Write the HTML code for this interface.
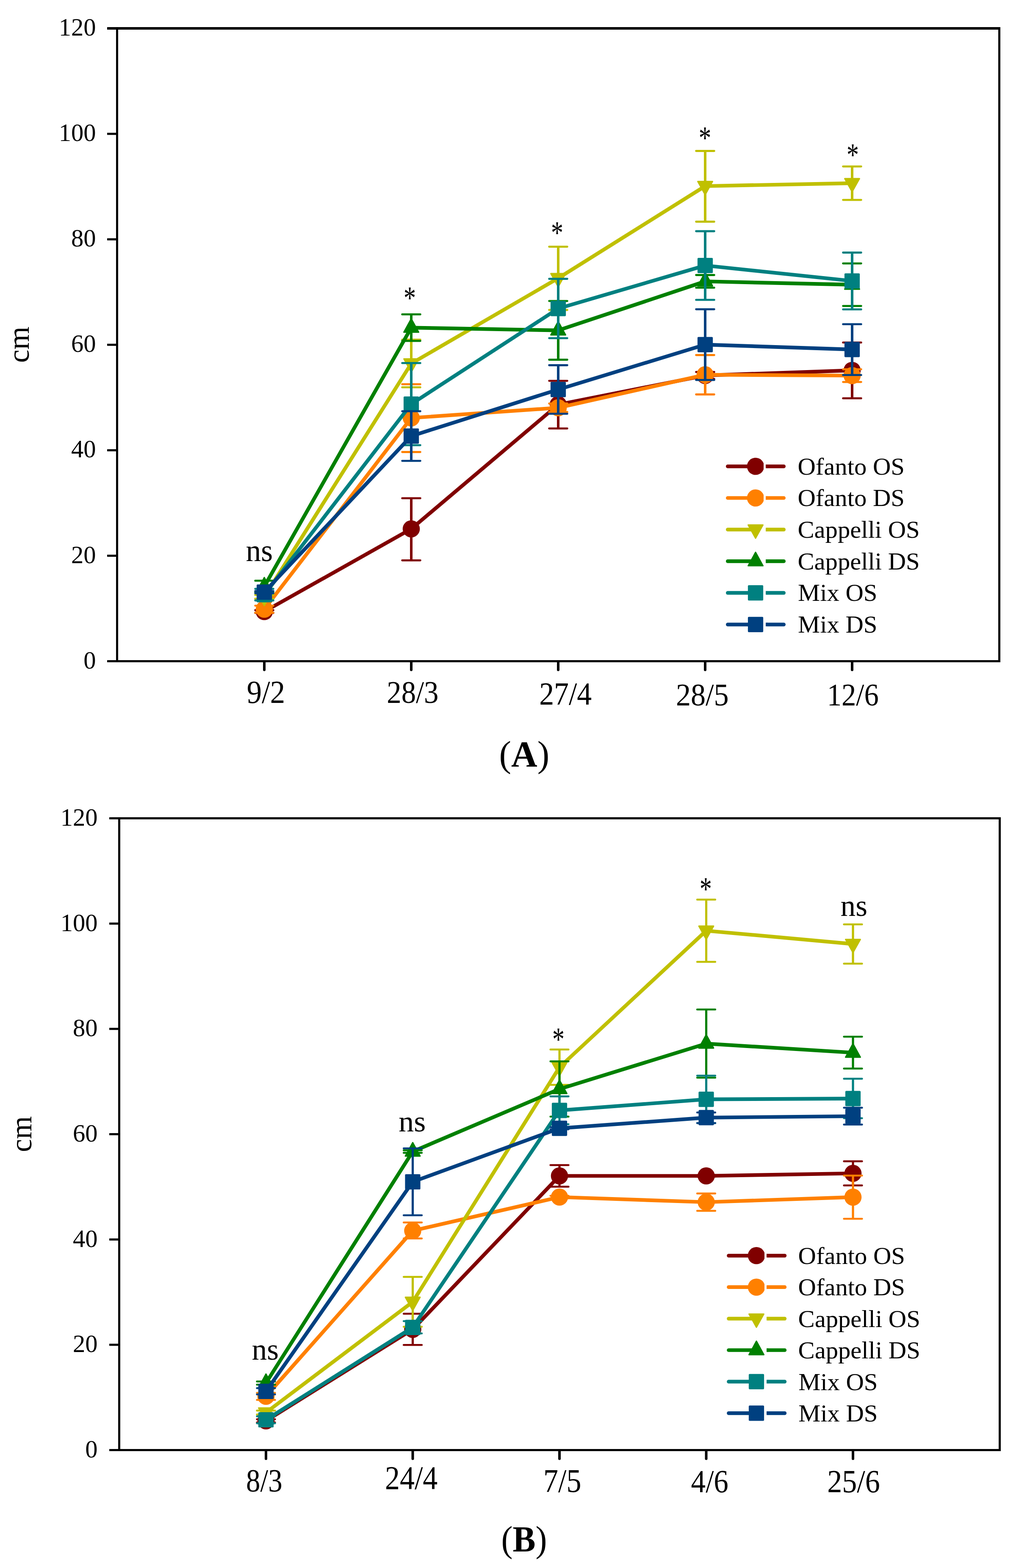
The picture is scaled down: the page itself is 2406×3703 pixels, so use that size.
<!DOCTYPE html>
<html><head><meta charset="utf-8"><title>Plant height</title>
<style>html,body{margin:0;padding:0;background:#fff;width:2406px;height:3703px;overflow:hidden}svg{display:block}</style>
</head><body>
<svg width="2406" height="3703" viewBox="0 0 2406 3703" font-family="Liberation Serif, serif">
<rect width="2406" height="3703" fill="#fff"/>
<rect x="253" y="64" width="2109" height="6"/>
<rect x="253" y="1559" width="2109" height="5"/>
<rect x="274" y="64" width="5" height="1500"/>
<rect x="2357" y="64" width="5" height="1500"/>
<rect x="253" y="1309.92" width="21" height="5"/>
<rect x="253" y="1060.83" width="21" height="5"/>
<rect x="253" y="811.75" width="21" height="5"/>
<rect x="253" y="562.67" width="21" height="5"/>
<rect x="253" y="313.58" width="21" height="5"/>
<path d="M624.05 1563 V1582" stroke="#000" stroke-width="6" stroke-linecap="round"/>
<path d="M971.03 1563 V1582" stroke="#000" stroke-width="6" stroke-linecap="round"/>
<path d="M1318.01 1563 V1582" stroke="#000" stroke-width="6" stroke-linecap="round"/>
<path d="M1664.99 1563 V1582" stroke="#000" stroke-width="6" stroke-linecap="round"/>
<path d="M2011.97 1563 V1582" stroke="#000" stroke-width="6" stroke-linecap="round"/>
<text transform="translate(197.17 1578.62) scale(0.5854 0.5897)" font-size="100">0</text>
<text transform="translate(167.9 1329.54) scale(0.5854 0.5897)" font-size="100">20</text>
<text transform="translate(167.9 1080.45) scale(0.5854 0.5897)" font-size="100">40</text>
<text transform="translate(167.9 831.37) scale(0.5854 0.5897)" font-size="100">60</text>
<text transform="translate(167.9 582.29) scale(0.5854 0.5897)" font-size="100">80</text>
<text transform="translate(138.63 333.2) scale(0.5854 0.5897)" font-size="100">100</text>
<text transform="translate(138.63 84.12) scale(0.5854 0.5897)" font-size="100">120</text>
<text transform="translate(582.68 1660.34) scale(0.7076 0.7591)" font-size="100">9/2</text>
<text transform="translate(913.25 1659.6) scale(0.6876 0.7493)" font-size="100">28/3</text>
<text transform="translate(1273.21 1664.24) scale(0.6977 0.7606)" font-size="100">27/4</text>
<text transform="translate(1595.9 1665.51) scale(0.7012 0.7463)" font-size="100">28/5</text>
<text transform="translate(1952.72 1665.53) scale(0.6867 0.7353)" font-size="100">12/6</text>
<path d="M624.05 1444.3 L971.03 1249 L1318.01 955.5 L1664.99 886.7 L2011.97 874.7" fill="none" stroke="#800000" stroke-width="8.7" stroke-linejoin="round"/>
<path d="M624.05 1441 V1447.5" stroke="#800000" stroke-width="6" fill="none"/>
<path d="M602.65 1441 H645.45 M602.65 1447.5 H645.45" stroke="#800000" stroke-width="4.8" stroke-linecap="round" fill="none"/>
<path d="M971.03 1176.7 V1323.3" stroke="#800000" stroke-width="6" fill="none"/>
<path d="M949.63 1176.7 H992.43 M949.63 1323.3 H992.43" stroke="#800000" stroke-width="4.8" stroke-linecap="round" fill="none"/>
<path d="M1318.01 899.3 V1011.8" stroke="#800000" stroke-width="6" fill="none"/>
<path d="M1296.61 899.3 H1339.41 M1296.61 1011.8 H1339.41" stroke="#800000" stroke-width="4.8" stroke-linecap="round" fill="none"/>
<path d="M1664.99 878.5 V894.9" stroke="#800000" stroke-width="6" fill="none"/>
<path d="M1643.59 878.5 H1686.39 M1643.59 894.9 H1686.39" stroke="#800000" stroke-width="4.8" stroke-linecap="round" fill="none"/>
<path d="M2011.97 808.9 V940.7" stroke="#800000" stroke-width="6" fill="none"/>
<path d="M1990.57 808.9 H2033.37 M1990.57 940.7 H2033.37" stroke="#800000" stroke-width="4.8" stroke-linecap="round" fill="none"/>
<circle cx="624.05" cy="1444.3" r="20.3" fill="#800000"/>
<circle cx="971.03" cy="1249" r="20.3" fill="#800000"/>
<circle cx="1318.01" cy="955.5" r="20.3" fill="#800000"/>
<circle cx="1664.99" cy="886.7" r="20.3" fill="#800000"/>
<circle cx="2011.97" cy="874.7" r="20.3" fill="#800000"/>
<path d="M624.05 1438.7 L971.03 987 L1318.01 963 L1664.99 885 L2011.97 887" fill="none" stroke="#ff8000" stroke-width="8.7" stroke-linejoin="round"/>
<path d="M624.05 1430.3 V1447" stroke="#ff8000" stroke-width="6" fill="none"/>
<path d="M602.65 1430.3 H645.45 M602.65 1447 H645.45" stroke="#ff8000" stroke-width="4.8" stroke-linecap="round" fill="none"/>
<path d="M971.03 907.4 V1067.5" stroke="#ff8000" stroke-width="6" fill="none"/>
<path d="M949.63 907.4 H992.43 M949.63 1067.5 H992.43" stroke="#ff8000" stroke-width="4.8" stroke-linecap="round" fill="none"/>
<path d="M1318.01 953 V973" stroke="#ff8000" stroke-width="6" fill="none"/>
<path d="M1296.61 953 H1339.41 M1296.61 973 H1339.41" stroke="#ff8000" stroke-width="4.8" stroke-linecap="round" fill="none"/>
<path d="M1664.99 838.5 V931.5" stroke="#ff8000" stroke-width="6" fill="none"/>
<path d="M1643.59 838.5 H1686.39 M1643.59 931.5 H1686.39" stroke="#ff8000" stroke-width="4.8" stroke-linecap="round" fill="none"/>
<path d="M2011.97 872.1 V902.1" stroke="#ff8000" stroke-width="6" fill="none"/>
<path d="M1990.57 872.1 H2033.37 M1990.57 902.1 H2033.37" stroke="#ff8000" stroke-width="4.8" stroke-linecap="round" fill="none"/>
<circle cx="624.05" cy="1438.7" r="20.3" fill="#ff8000"/>
<circle cx="971.03" cy="987" r="20.3" fill="#ff8000"/>
<circle cx="1318.01" cy="963" r="20.3" fill="#ff8000"/>
<circle cx="1664.99" cy="885" r="20.3" fill="#ff8000"/>
<circle cx="2011.97" cy="887" r="20.3" fill="#ff8000"/>
<path d="M624.05 1409.5 L971.03 858.5 L1318.01 657 L1664.99 439.5 L2011.97 432.6" fill="none" stroke="#c0c000" stroke-width="8.7" stroke-linejoin="round"/>
<path d="M624.05 1405 V1414" stroke="#c0c000" stroke-width="6" fill="none"/>
<path d="M602.65 1405 H645.45 M602.65 1414 H645.45" stroke="#c0c000" stroke-width="4.8" stroke-linecap="round" fill="none"/>
<path d="M971.03 802.2 V914.7" stroke="#c0c000" stroke-width="6" fill="none"/>
<path d="M949.63 802.2 H992.43 M949.63 914.7 H992.43" stroke="#c0c000" stroke-width="4.8" stroke-linecap="round" fill="none"/>
<path d="M1318.01 582.6 V732" stroke="#c0c000" stroke-width="6" fill="none"/>
<path d="M1296.61 582.6 H1339.41 M1296.61 732 H1339.41" stroke="#c0c000" stroke-width="4.8" stroke-linecap="round" fill="none"/>
<path d="M1664.99 356.5 V523.5" stroke="#c0c000" stroke-width="6" fill="none"/>
<path d="M1643.59 356.5 H1686.39 M1643.59 523.5 H1686.39" stroke="#c0c000" stroke-width="4.8" stroke-linecap="round" fill="none"/>
<path d="M2011.97 393.1 V472.1" stroke="#c0c000" stroke-width="6" fill="none"/>
<path d="M1990.57 393.1 H2033.37 M1990.57 472.1 H2033.37" stroke="#c0c000" stroke-width="4.8" stroke-linecap="round" fill="none"/>
<polygon points="606.6,1398.6 641.5,1398.6 624.05,1429.92" fill="#c0c000" stroke="#c0c000" stroke-width="3" stroke-linejoin="round"/>
<polygon points="953.58,847.6 988.48,847.6 971.03,878.92" fill="#c0c000" stroke="#c0c000" stroke-width="3" stroke-linejoin="round"/>
<polygon points="1300.56,646.1 1335.46,646.1 1318.01,677.42" fill="#c0c000" stroke="#c0c000" stroke-width="3" stroke-linejoin="round"/>
<polygon points="1647.54,428.6 1682.44,428.6 1664.99,459.92" fill="#c0c000" stroke="#c0c000" stroke-width="3" stroke-linejoin="round"/>
<polygon points="1994.52,421.7 2029.42,421.7 2011.97,453.02" fill="#c0c000" stroke="#c0c000" stroke-width="3" stroke-linejoin="round"/>
<path d="M624.05 1385 L971.03 773.8 L1318.01 780.2 L1664.99 664.5 L2011.97 672.3" fill="none" stroke="#008000" stroke-width="8.7" stroke-linejoin="round"/>
<path d="M624.05 1371.4 V1398.5" stroke="#008000" stroke-width="6" fill="none"/>
<path d="M602.65 1371.4 H645.45 M602.65 1398.5 H645.45" stroke="#008000" stroke-width="4.8" stroke-linecap="round" fill="none"/>
<path d="M971.03 742.4 V805.1" stroke="#008000" stroke-width="6" fill="none"/>
<path d="M949.63 742.4 H992.43 M949.63 805.1 H992.43" stroke="#008000" stroke-width="4.8" stroke-linecap="round" fill="none"/>
<path d="M1318.01 710.8 V849.5" stroke="#008000" stroke-width="6" fill="none"/>
<path d="M1296.61 710.8 H1339.41 M1296.61 849.5 H1339.41" stroke="#008000" stroke-width="4.8" stroke-linecap="round" fill="none"/>
<path d="M1664.99 649.5 V679.4" stroke="#008000" stroke-width="6" fill="none"/>
<path d="M1643.59 649.5 H1686.39 M1643.59 679.4 H1686.39" stroke="#008000" stroke-width="4.8" stroke-linecap="round" fill="none"/>
<path d="M2011.97 622.1 V722.6" stroke="#008000" stroke-width="6" fill="none"/>
<path d="M1990.57 622.1 H2033.37 M1990.57 722.6 H2033.37" stroke="#008000" stroke-width="4.8" stroke-linecap="round" fill="none"/>
<polygon points="624.05,1363.82 641.52,1395.7 606.58,1395.7" fill="#008000" stroke="#008000" stroke-width="3" stroke-linejoin="round"/>
<polygon points="971.03,752.62 988.5,784.5 953.56,784.5" fill="#008000" stroke="#008000" stroke-width="3" stroke-linejoin="round"/>
<polygon points="1318.01,759.02 1335.48,790.9 1300.54,790.9" fill="#008000" stroke="#008000" stroke-width="3" stroke-linejoin="round"/>
<polygon points="1664.99,643.32 1682.46,675.2 1647.52,675.2" fill="#008000" stroke="#008000" stroke-width="3" stroke-linejoin="round"/>
<polygon points="2011.97,651.12 2029.44,683 1994.5,683" fill="#008000" stroke="#008000" stroke-width="3" stroke-linejoin="round"/>
<path d="M624.05 1404.3 L971.03 954.3 L1318.01 728.6 L1664.99 627 L2011.97 663.5" fill="none" stroke="#008080" stroke-width="8.7" stroke-linejoin="round"/>
<path d="M624.05 1390.6 V1418" stroke="#008080" stroke-width="6" fill="none"/>
<path d="M602.65 1390.6 H645.45 M602.65 1418 H645.45" stroke="#008080" stroke-width="4.8" stroke-linecap="round" fill="none"/>
<path d="M971.03 857.4 V1051.3" stroke="#008080" stroke-width="6" fill="none"/>
<path d="M949.63 857.4 H992.43 M949.63 1051.3 H992.43" stroke="#008080" stroke-width="4.8" stroke-linecap="round" fill="none"/>
<path d="M1318.01 658.5 V798.6" stroke="#008080" stroke-width="6" fill="none"/>
<path d="M1296.61 658.5 H1339.41 M1296.61 798.6 H1339.41" stroke="#008080" stroke-width="4.8" stroke-linecap="round" fill="none"/>
<path d="M1664.99 546 V708.2" stroke="#008080" stroke-width="6" fill="none"/>
<path d="M1643.59 546 H1686.39 M1643.59 708.2 H1686.39" stroke="#008080" stroke-width="4.8" stroke-linecap="round" fill="none"/>
<path d="M2011.97 596.5 V730.7" stroke="#008080" stroke-width="6" fill="none"/>
<path d="M1990.57 596.5 H2033.37 M1990.57 730.7 H2033.37" stroke="#008080" stroke-width="4.8" stroke-linecap="round" fill="none"/>
<rect x="605.95" y="1386.2" width="36.2" height="36.2" rx="2.2" fill="#008080"/>
<rect x="952.93" y="936.2" width="36.2" height="36.2" rx="2.2" fill="#008080"/>
<rect x="1299.91" y="710.5" width="36.2" height="36.2" rx="2.2" fill="#008080"/>
<rect x="1646.89" y="608.9" width="36.2" height="36.2" rx="2.2" fill="#008080"/>
<rect x="1993.87" y="645.4" width="36.2" height="36.2" rx="2.2" fill="#008080"/>
<path d="M624.05 1398.3 L971.03 1029.8 L1318.01 919.8 L1664.99 813.9 L2011.97 825.4" fill="none" stroke="#004080" stroke-width="8.7" stroke-linejoin="round"/>
<path d="M624.05 1395.9 V1401" stroke="#004080" stroke-width="6" fill="none"/>
<path d="M602.65 1395.9 H645.45 M602.65 1401 H645.45" stroke="#004080" stroke-width="4.8" stroke-linecap="round" fill="none"/>
<path d="M971.03 971.2 V1088.3" stroke="#004080" stroke-width="6" fill="none"/>
<path d="M949.63 971.2 H992.43 M949.63 1088.3 H992.43" stroke="#004080" stroke-width="4.8" stroke-linecap="round" fill="none"/>
<path d="M1318.01 862.5 V977.1" stroke="#004080" stroke-width="6" fill="none"/>
<path d="M1296.61 862.5 H1339.41 M1296.61 977.1 H1339.41" stroke="#004080" stroke-width="4.8" stroke-linecap="round" fill="none"/>
<path d="M1664.99 730.3 V897.4" stroke="#004080" stroke-width="6" fill="none"/>
<path d="M1643.59 730.3 H1686.39 M1643.59 897.4 H1686.39" stroke="#004080" stroke-width="4.8" stroke-linecap="round" fill="none"/>
<path d="M2011.97 765.7 V885.7" stroke="#004080" stroke-width="6" fill="none"/>
<path d="M1990.57 765.7 H2033.37 M1990.57 885.7 H2033.37" stroke="#004080" stroke-width="4.8" stroke-linecap="round" fill="none"/>
<rect x="605.95" y="1380.2" width="36.2" height="36.2" rx="2.2" fill="#004080"/>
<rect x="952.93" y="1011.7" width="36.2" height="36.2" rx="2.2" fill="#004080"/>
<rect x="1299.91" y="901.7" width="36.2" height="36.2" rx="2.2" fill="#004080"/>
<rect x="1646.89" y="795.8" width="36.2" height="36.2" rx="2.2" fill="#004080"/>
<rect x="1993.87" y="807.3" width="36.2" height="36.2" rx="2.2" fill="#004080"/>
<text transform="translate(580.47 1325.47) scale(0.7157 0.7292)" font-size="100">ns</text>
<text transform="translate(953 728.75) scale(0.5800 0.7639)" font-size="100">*</text>
<text transform="translate(1301.11 574.83) scale(0.5775 0.7667)" font-size="100">*</text>
<text transform="translate(1649.65 351.03) scale(0.5900 0.7667)" font-size="100">*</text>
<text transform="translate(1998.91 391.01) scale(0.5775 0.7694)" font-size="100">*</text>
<text transform="translate(68.39 856.81) rotate(-90) scale(0.7017 0.7125)" font-size="100">cm</text>
<text transform="translate(1178.48 1809.81) scale(0.8546 0.8711)" font-size="100"><tspan>(</tspan><tspan font-weight="bold">A</tspan><tspan>)</tspan></text>
<clipPath id="lcA"><rect x="0" y="0" width="1803" height="3703"/></clipPath>
<path d="M1718.3 1101.3 H1784" stroke="#800000" stroke-width="8.7" stroke-linecap="round"/>
<rect x="1808" y="1096.95" width="4.3" height="8.7" fill="#800000"/>
<path d="M1812.3 1101.3 H1850.6" stroke="#800000" stroke-width="8.7" stroke-linecap="round"/>
<g clip-path="url(#lcA)"><circle cx="1784" cy="1101.3" r="20.3" fill="#800000"/></g>
<text transform="translate(1883.45 1120.6) scale(0.5864 0.5770)" font-size="100">Ofanto OS</text>
<path d="M1718.3 1176 H1784" stroke="#ff8000" stroke-width="8.7" stroke-linecap="round"/>
<rect x="1808" y="1171.65" width="4.3" height="8.7" fill="#ff8000"/>
<path d="M1812.3 1176 H1850.6" stroke="#ff8000" stroke-width="8.7" stroke-linecap="round"/>
<g clip-path="url(#lcA)"><circle cx="1784" cy="1176" r="20.3" fill="#ff8000"/></g>
<text transform="translate(1883.45 1195.3) scale(0.5864 0.5770)" font-size="100">Ofanto DS</text>
<path d="M1718.3 1250.7 H1784" stroke="#c0c000" stroke-width="8.7" stroke-linecap="round"/>
<rect x="1808" y="1246.35" width="4.3" height="8.7" fill="#c0c000"/>
<path d="M1812.3 1250.7 H1850.6" stroke="#c0c000" stroke-width="8.7" stroke-linecap="round"/>
<g clip-path="url(#lcA)"><polygon points="1766.55,1239.8 1801.45,1239.8 1784,1271.12" fill="#c0c000" stroke="#c0c000" stroke-width="3" stroke-linejoin="round"/></g>
<text transform="translate(1883.45 1270) scale(0.5864 0.5770)" font-size="100">Cappelli OS</text>
<path d="M1718.3 1325.4 H1784" stroke="#008000" stroke-width="8.7" stroke-linecap="round"/>
<rect x="1808" y="1321.05" width="4.3" height="8.7" fill="#008000"/>
<path d="M1812.3 1325.4 H1850.6" stroke="#008000" stroke-width="8.7" stroke-linecap="round"/>
<g clip-path="url(#lcA)"><polygon points="1784,1304.22 1801.47,1336.1 1766.53,1336.1" fill="#008000" stroke="#008000" stroke-width="3" stroke-linejoin="round"/></g>
<text transform="translate(1883.45 1344.7) scale(0.5864 0.5770)" font-size="100">Cappelli DS</text>
<path d="M1718.3 1400.1 H1784" stroke="#008080" stroke-width="8.7" stroke-linecap="round"/>
<rect x="1808" y="1395.75" width="4.3" height="8.7" fill="#008080"/>
<path d="M1812.3 1400.1 H1850.6" stroke="#008080" stroke-width="8.7" stroke-linecap="round"/>
<g clip-path="url(#lcA)"><rect x="1765.9" y="1382" width="36.2" height="36.2" rx="2.2" fill="#008080"/></g>
<text transform="translate(1884.04 1419.4) scale(0.5864 0.5770)" font-size="100">Mix OS</text>
<path d="M1718.3 1474.8 H1784" stroke="#004080" stroke-width="8.7" stroke-linecap="round"/>
<rect x="1808" y="1470.45" width="4.3" height="8.7" fill="#004080"/>
<path d="M1812.3 1474.8 H1850.6" stroke="#004080" stroke-width="8.7" stroke-linecap="round"/>
<g clip-path="url(#lcA)"><rect x="1765.9" y="1456.7" width="36.2" height="36.2" rx="2.2" fill="#004080"/></g>
<text transform="translate(1884.04 1494.1) scale(0.5864 0.5770)" font-size="100">Mix DS</text>
<rect x="258" y="1930" width="2105" height="5"/>
<rect x="258" y="3422" width="2105" height="5"/>
<rect x="279" y="1930" width="5" height="1497"/>
<rect x="2358" y="1930" width="5" height="1497"/>
<rect x="258" y="3173.33" width="21" height="5"/>
<rect x="258" y="2924.67" width="21" height="5"/>
<rect x="258" y="2676" width="21" height="5"/>
<rect x="258" y="2427.33" width="21" height="5"/>
<rect x="258" y="2178.67" width="21" height="5"/>
<path d="M628 3426 V3445" stroke="#000" stroke-width="6" stroke-linecap="round"/>
<path d="M974.5 3426 V3445" stroke="#000" stroke-width="6" stroke-linecap="round"/>
<path d="M1321 3426 V3445" stroke="#000" stroke-width="6" stroke-linecap="round"/>
<path d="M1667.5 3426 V3445" stroke="#000" stroke-width="6" stroke-linecap="round"/>
<path d="M2014 3426 V3445" stroke="#000" stroke-width="6" stroke-linecap="round"/>
<text transform="translate(201.17 3442.12) scale(0.5854 0.5897)" font-size="100">0</text>
<text transform="translate(171.9 3193.45) scale(0.5854 0.5897)" font-size="100">20</text>
<text transform="translate(171.9 2944.79) scale(0.5854 0.5897)" font-size="100">40</text>
<text transform="translate(171.9 2696.12) scale(0.5854 0.5897)" font-size="100">60</text>
<text transform="translate(171.9 2447.45) scale(0.5854 0.5897)" font-size="100">80</text>
<text transform="translate(142.63 2198.79) scale(0.5854 0.5897)" font-size="100">100</text>
<text transform="translate(142.63 1950.12) scale(0.5854 0.5897)" font-size="100">120</text>
<text transform="translate(581.12 3522.47) scale(0.6692 0.7642)" font-size="100">8/3</text>
<text transform="translate(909 3516.22) scale(0.6994 0.7758)" font-size="100">24/4</text>
<text transform="translate(1283 3522.72) scale(0.7000 0.7803)" font-size="100">7/5</text>
<text transform="translate(1631.62 3524.47) scale(0.6911 0.7657)" font-size="100">4/6</text>
<text transform="translate(1953.2 3524.47) scale(0.7006 0.7642)" font-size="100">25/6</text>
<path d="M628 3355.5 L974.5 3139.4 L1321 2777 L1667.5 2777 L2014 2771" fill="none" stroke="#800000" stroke-width="8.7" stroke-linejoin="round"/>
<path d="M628 3351.8 V3359.2" stroke="#800000" stroke-width="5.2" fill="none"/>
<path d="M606.6 3351.8 H649.4 M606.6 3359.2 H649.4" stroke="#800000" stroke-width="4.5" stroke-linecap="round" fill="none"/>
<path d="M974.5 3102.5 V3176.2" stroke="#800000" stroke-width="5.2" fill="none"/>
<path d="M953.1 3102.5 H995.9 M953.1 3176.2 H995.9" stroke="#800000" stroke-width="4.5" stroke-linecap="round" fill="none"/>
<path d="M1321 2751.5 V2802.5" stroke="#800000" stroke-width="5.2" fill="none"/>
<path d="M1299.6 2751.5 H1342.4 M1299.6 2802.5 H1342.4" stroke="#800000" stroke-width="4.5" stroke-linecap="round" fill="none"/>
<path d="M1667.5 2775 V2779" stroke="#800000" stroke-width="5.2" fill="none"/>
<path d="M1646.1 2775 H1688.9 M1646.1 2779 H1688.9" stroke="#800000" stroke-width="4.5" stroke-linecap="round" fill="none"/>
<path d="M2014 2742.6 V2799.4" stroke="#800000" stroke-width="5.2" fill="none"/>
<path d="M1992.6 2742.6 H2035.4 M1992.6 2799.4 H2035.4" stroke="#800000" stroke-width="4.5" stroke-linecap="round" fill="none"/>
<circle cx="628" cy="3355.5" r="20.3" fill="#800000"/>
<circle cx="974.5" cy="3139.4" r="20.3" fill="#800000"/>
<circle cx="1321" cy="2777" r="20.3" fill="#800000"/>
<circle cx="1667.5" cy="2777" r="20.3" fill="#800000"/>
<circle cx="2014" cy="2771" r="20.3" fill="#800000"/>
<path d="M628 3297.5 L974.5 2906.5 L1321 2827 L1667.5 2839 L2014 2827.2" fill="none" stroke="#ff8000" stroke-width="8.7" stroke-linejoin="round"/>
<path d="M628 3289.4 V3305.9" stroke="#ff8000" stroke-width="5.2" fill="none"/>
<path d="M606.6 3289.4 H649.4 M606.6 3305.9 H649.4" stroke="#ff8000" stroke-width="4.5" stroke-linecap="round" fill="none"/>
<path d="M974.5 2886.9 V2924.7" stroke="#ff8000" stroke-width="5.2" fill="none"/>
<path d="M953.1 2886.9 H995.9 M953.1 2924.7 H995.9" stroke="#ff8000" stroke-width="4.5" stroke-linecap="round" fill="none"/>
<path d="M1321 2824 V2830" stroke="#ff8000" stroke-width="5.2" fill="none"/>
<path d="M1299.6 2824 H1342.4 M1299.6 2830 H1342.4" stroke="#ff8000" stroke-width="4.5" stroke-linecap="round" fill="none"/>
<path d="M1667.5 2818.5 V2859.5" stroke="#ff8000" stroke-width="5.2" fill="none"/>
<path d="M1646.1 2818.5 H1688.9 M1646.1 2859.5 H1688.9" stroke="#ff8000" stroke-width="4.5" stroke-linecap="round" fill="none"/>
<path d="M2014 2776.3 V2878.2" stroke="#ff8000" stroke-width="5.2" fill="none"/>
<path d="M1992.6 2776.3 H2035.4 M1992.6 2878.2 H2035.4" stroke="#ff8000" stroke-width="4.5" stroke-linecap="round" fill="none"/>
<circle cx="628" cy="3297.5" r="20.3" fill="#ff8000"/>
<circle cx="974.5" cy="2906.5" r="20.3" fill="#ff8000"/>
<circle cx="1321" cy="2827" r="20.3" fill="#ff8000"/>
<circle cx="1667.5" cy="2839" r="20.3" fill="#ff8000"/>
<circle cx="2014" cy="2827.2" r="20.3" fill="#ff8000"/>
<path d="M628 3335.9 L974.5 3074.5 L1321 2520.4 L1667.5 2198 L2014 2229.3" fill="none" stroke="#c0c000" stroke-width="8.7" stroke-linejoin="round"/>
<path d="M628 3331.2 V3340.6" stroke="#c0c000" stroke-width="5.2" fill="none"/>
<path d="M606.6 3331.2 H649.4 M606.6 3340.6 H649.4" stroke="#c0c000" stroke-width="4.5" stroke-linecap="round" fill="none"/>
<path d="M974.5 3015.5 V3133.3" stroke="#c0c000" stroke-width="5.2" fill="none"/>
<path d="M953.1 3015.5 H995.9 M953.1 3133.3 H995.9" stroke="#c0c000" stroke-width="4.5" stroke-linecap="round" fill="none"/>
<path d="M1321 2478.6 V2562.1" stroke="#c0c000" stroke-width="5.2" fill="none"/>
<path d="M1299.6 2478.6 H1342.4 M1299.6 2562.1 H1342.4" stroke="#c0c000" stroke-width="4.5" stroke-linecap="round" fill="none"/>
<path d="M1667.5 2124.4 V2271.6" stroke="#c0c000" stroke-width="5.2" fill="none"/>
<path d="M1646.1 2124.4 H1688.9 M1646.1 2271.6 H1688.9" stroke="#c0c000" stroke-width="4.5" stroke-linecap="round" fill="none"/>
<path d="M2014 2182.9 V2275.7" stroke="#c0c000" stroke-width="5.2" fill="none"/>
<path d="M1992.6 2182.9 H2035.4 M1992.6 2275.7 H2035.4" stroke="#c0c000" stroke-width="4.5" stroke-linecap="round" fill="none"/>
<polygon points="610.55,3325 645.45,3325 628,3356.32" fill="#c0c000" stroke="#c0c000" stroke-width="3" stroke-linejoin="round"/>
<polygon points="957.05,3063.6 991.95,3063.6 974.5,3094.92" fill="#c0c000" stroke="#c0c000" stroke-width="3" stroke-linejoin="round"/>
<polygon points="1303.55,2509.5 1338.45,2509.5 1321,2540.82" fill="#c0c000" stroke="#c0c000" stroke-width="3" stroke-linejoin="round"/>
<polygon points="1650.05,2187.1 1684.95,2187.1 1667.5,2218.42" fill="#c0c000" stroke="#c0c000" stroke-width="3" stroke-linejoin="round"/>
<polygon points="1996.55,2218.4 2031.45,2218.4 2014,2249.72" fill="#c0c000" stroke="#c0c000" stroke-width="3" stroke-linejoin="round"/>
<path d="M628 3266 L974.5 2719.5 L1321 2571.8 L1667.5 2464.6 L2014 2486" fill="none" stroke="#008000" stroke-width="8.7" stroke-linejoin="round"/>
<path d="M628 3262.4 V3270" stroke="#008000" stroke-width="5.2" fill="none"/>
<path d="M606.6 3262.4 H649.4 M606.6 3270 H649.4" stroke="#008000" stroke-width="4.5" stroke-linecap="round" fill="none"/>
<path d="M974.5 2716.5 V2722.5" stroke="#008000" stroke-width="5.2" fill="none"/>
<path d="M953.1 2716.5 H995.9 M953.1 2722.5 H995.9" stroke="#008000" stroke-width="4.5" stroke-linecap="round" fill="none"/>
<path d="M1321 2506.4 V2637.1" stroke="#008000" stroke-width="5.2" fill="none"/>
<path d="M1299.6 2506.4 H1342.4 M1299.6 2637.1 H1342.4" stroke="#008000" stroke-width="4.5" stroke-linecap="round" fill="none"/>
<path d="M1667.5 2384.1 V2545" stroke="#008000" stroke-width="5.2" fill="none"/>
<path d="M1646.1 2384.1 H1688.9 M1646.1 2545 H1688.9" stroke="#008000" stroke-width="4.5" stroke-linecap="round" fill="none"/>
<path d="M2014 2448.3 V2523.6" stroke="#008000" stroke-width="5.2" fill="none"/>
<path d="M1992.6 2448.3 H2035.4 M1992.6 2523.6 H2035.4" stroke="#008000" stroke-width="4.5" stroke-linecap="round" fill="none"/>
<polygon points="628,3244.82 645.47,3276.7 610.53,3276.7" fill="#008000" stroke="#008000" stroke-width="3" stroke-linejoin="round"/>
<polygon points="974.5,2698.32 991.97,2730.2 957.03,2730.2" fill="#008000" stroke="#008000" stroke-width="3" stroke-linejoin="round"/>
<polygon points="1321,2550.62 1338.47,2582.5 1303.53,2582.5" fill="#008000" stroke="#008000" stroke-width="3" stroke-linejoin="round"/>
<polygon points="1667.5,2443.42 1684.97,2475.3 1650.03,2475.3" fill="#008000" stroke="#008000" stroke-width="3" stroke-linejoin="round"/>
<polygon points="2014,2464.82 2031.47,2496.7 1996.53,2496.7" fill="#008000" stroke="#008000" stroke-width="3" stroke-linejoin="round"/>
<path d="M628 3353 L974.5 3134.8 L1321 2622.3 L1667.5 2596.2 L2014 2594.3" fill="none" stroke="#008080" stroke-width="8.7" stroke-linejoin="round"/>
<path d="M628 3344.7 V3361.2" stroke="#008080" stroke-width="5.2" fill="none"/>
<path d="M606.6 3344.7 H649.4 M606.6 3361.2 H649.4" stroke="#008080" stroke-width="4.5" stroke-linecap="round" fill="none"/>
<path d="M974.5 3120.1 V3149.1" stroke="#008080" stroke-width="5.2" fill="none"/>
<path d="M953.1 3120.1 H995.9 M953.1 3149.1 H995.9" stroke="#008080" stroke-width="4.5" stroke-linecap="round" fill="none"/>
<path d="M1321 2589.3 V2655" stroke="#008080" stroke-width="5.2" fill="none"/>
<path d="M1299.6 2589.3 H1342.4 M1299.6 2655 H1342.4" stroke="#008080" stroke-width="4.5" stroke-linecap="round" fill="none"/>
<path d="M1667.5 2540.2 V2652.2" stroke="#008080" stroke-width="5.2" fill="none"/>
<path d="M1646.1 2540.2 H1688.9 M1646.1 2652.2 H1688.9" stroke="#008080" stroke-width="4.5" stroke-linecap="round" fill="none"/>
<path d="M2014 2547.5 V2640.7" stroke="#008080" stroke-width="5.2" fill="none"/>
<path d="M1992.6 2547.5 H2035.4 M1992.6 2640.7 H2035.4" stroke="#008080" stroke-width="4.5" stroke-linecap="round" fill="none"/>
<rect x="609.9" y="3334.9" width="36.2" height="36.2" rx="2.2" fill="#008080"/>
<rect x="956.4" y="3116.7" width="36.2" height="36.2" rx="2.2" fill="#008080"/>
<rect x="1302.9" y="2604.2" width="36.2" height="36.2" rx="2.2" fill="#008080"/>
<rect x="1649.4" y="2578.1" width="36.2" height="36.2" rx="2.2" fill="#008080"/>
<rect x="1995.9" y="2576.2" width="36.2" height="36.2" rx="2.2" fill="#008080"/>
<path d="M628 3285.8 L974.5 2791 L1321 2664.6 L1667.5 2639.3 L2014 2636" fill="none" stroke="#004080" stroke-width="8.7" stroke-linejoin="round"/>
<path d="M628 3278.2 V3293" stroke="#004080" stroke-width="5.2" fill="none"/>
<path d="M606.6 3278.2 H649.4 M606.6 3293 H649.4" stroke="#004080" stroke-width="4.5" stroke-linecap="round" fill="none"/>
<path d="M974.5 2712.1 V2870.1" stroke="#004080" stroke-width="5.2" fill="none"/>
<path d="M953.1 2712.1 H995.9 M953.1 2870.1 H995.9" stroke="#004080" stroke-width="4.5" stroke-linecap="round" fill="none"/>
<path d="M1321 2662 V2667" stroke="#004080" stroke-width="5.2" fill="none"/>
<path d="M1299.6 2662 H1342.4 M1299.6 2667 H1342.4" stroke="#004080" stroke-width="4.5" stroke-linecap="round" fill="none"/>
<path d="M1667.5 2627.2 V2652.3" stroke="#004080" stroke-width="5.2" fill="none"/>
<path d="M1646.1 2627.2 H1688.9 M1646.1 2652.3 H1688.9" stroke="#004080" stroke-width="4.5" stroke-linecap="round" fill="none"/>
<path d="M2014 2616.1 V2655.8" stroke="#004080" stroke-width="5.2" fill="none"/>
<path d="M1992.6 2616.1 H2035.4 M1992.6 2655.8 H2035.4" stroke="#004080" stroke-width="4.5" stroke-linecap="round" fill="none"/>
<rect x="609.9" y="3267.7" width="36.2" height="36.2" rx="2.2" fill="#004080"/>
<rect x="956.4" y="2772.9" width="36.2" height="36.2" rx="2.2" fill="#004080"/>
<rect x="1302.9" y="2646.5" width="36.2" height="36.2" rx="2.2" fill="#004080"/>
<rect x="1649.4" y="2621.2" width="36.2" height="36.2" rx="2.2" fill="#004080"/>
<rect x="1995.9" y="2617.9" width="36.2" height="36.2" rx="2.2" fill="#004080"/>
<text transform="translate(594.47 3211.08) scale(0.7157 0.7250)" font-size="100">ns</text>
<text transform="translate(941.36 2671.9) scale(0.7193 0.7000)" font-size="100">ns</text>
<text transform="translate(1304.01 2480.38) scale(0.5775 0.7750)" font-size="100">*</text>
<text transform="translate(1652.12 2124.74) scale(0.5750 0.7806)" font-size="100">*</text>
<text transform="translate(1984.58 2163.27) scale(0.7120 0.7271)" font-size="100">ns</text>
<text transform="translate(74.39 2720.78) rotate(-90) scale(0.6940 0.7146)" font-size="100">cm</text>
<text transform="translate(1183.56 3663.65) scale(0.8096 0.8644)" font-size="100"><tspan>(</tspan><tspan font-weight="bold">B</tspan><tspan>)</tspan></text>
<clipPath id="lcB"><rect x="0" y="0" width="1805" height="3703"/></clipPath>
<path d="M1720.5 2965.3 H1786" stroke="#800000" stroke-width="8.7" stroke-linecap="round"/>
<rect x="1810" y="2960.95" width="4.3" height="8.7" fill="#800000"/>
<path d="M1814.3 2965.3 H1852.8" stroke="#800000" stroke-width="8.7" stroke-linecap="round"/>
<g clip-path="url(#lcB)"><circle cx="1786" cy="2965.3" r="20.3" fill="#800000"/></g>
<text transform="translate(1884.55 2985) scale(0.5864 0.5770)" font-size="100">Ofanto OS</text>
<path d="M1720.5 3039.7 H1786" stroke="#ff8000" stroke-width="8.7" stroke-linecap="round"/>
<rect x="1810" y="3035.35" width="4.3" height="8.7" fill="#ff8000"/>
<path d="M1814.3 3039.7 H1852.8" stroke="#ff8000" stroke-width="8.7" stroke-linecap="round"/>
<g clip-path="url(#lcB)"><circle cx="1786" cy="3039.7" r="20.3" fill="#ff8000"/></g>
<text transform="translate(1884.55 3059.4) scale(0.5864 0.5770)" font-size="100">Ofanto DS</text>
<path d="M1720.5 3114.1 H1786" stroke="#c0c000" stroke-width="8.7" stroke-linecap="round"/>
<rect x="1810" y="3109.75" width="4.3" height="8.7" fill="#c0c000"/>
<path d="M1814.3 3114.1 H1852.8" stroke="#c0c000" stroke-width="8.7" stroke-linecap="round"/>
<g clip-path="url(#lcB)"><polygon points="1768.55,3103.2 1803.45,3103.2 1786,3134.52" fill="#c0c000" stroke="#c0c000" stroke-width="3" stroke-linejoin="round"/></g>
<text transform="translate(1884.55 3133.8) scale(0.5864 0.5770)" font-size="100">Cappelli OS</text>
<path d="M1720.5 3188.5 H1786" stroke="#008000" stroke-width="8.7" stroke-linecap="round"/>
<rect x="1810" y="3184.15" width="4.3" height="8.7" fill="#008000"/>
<path d="M1814.3 3188.5 H1852.8" stroke="#008000" stroke-width="8.7" stroke-linecap="round"/>
<g clip-path="url(#lcB)"><polygon points="1786,3167.32 1803.47,3199.2 1768.53,3199.2" fill="#008000" stroke="#008000" stroke-width="3" stroke-linejoin="round"/></g>
<text transform="translate(1884.55 3208.2) scale(0.5864 0.5770)" font-size="100">Cappelli DS</text>
<path d="M1720.5 3262.9 H1786" stroke="#008080" stroke-width="8.7" stroke-linecap="round"/>
<rect x="1810" y="3258.55" width="4.3" height="8.7" fill="#008080"/>
<path d="M1814.3 3262.9 H1852.8" stroke="#008080" stroke-width="8.7" stroke-linecap="round"/>
<g clip-path="url(#lcB)"><rect x="1767.9" y="3244.8" width="36.2" height="36.2" rx="2.2" fill="#008080"/></g>
<text transform="translate(1885.14 3282.6) scale(0.5864 0.5770)" font-size="100">Mix OS</text>
<path d="M1720.5 3337.3 H1786" stroke="#004080" stroke-width="8.7" stroke-linecap="round"/>
<rect x="1810" y="3332.95" width="4.3" height="8.7" fill="#004080"/>
<path d="M1814.3 3337.3 H1852.8" stroke="#004080" stroke-width="8.7" stroke-linecap="round"/>
<g clip-path="url(#lcB)"><rect x="1767.9" y="3319.2" width="36.2" height="36.2" rx="2.2" fill="#004080"/></g>
<text transform="translate(1885.14 3357) scale(0.5864 0.5770)" font-size="100">Mix DS</text>
</svg>
</body></html>
